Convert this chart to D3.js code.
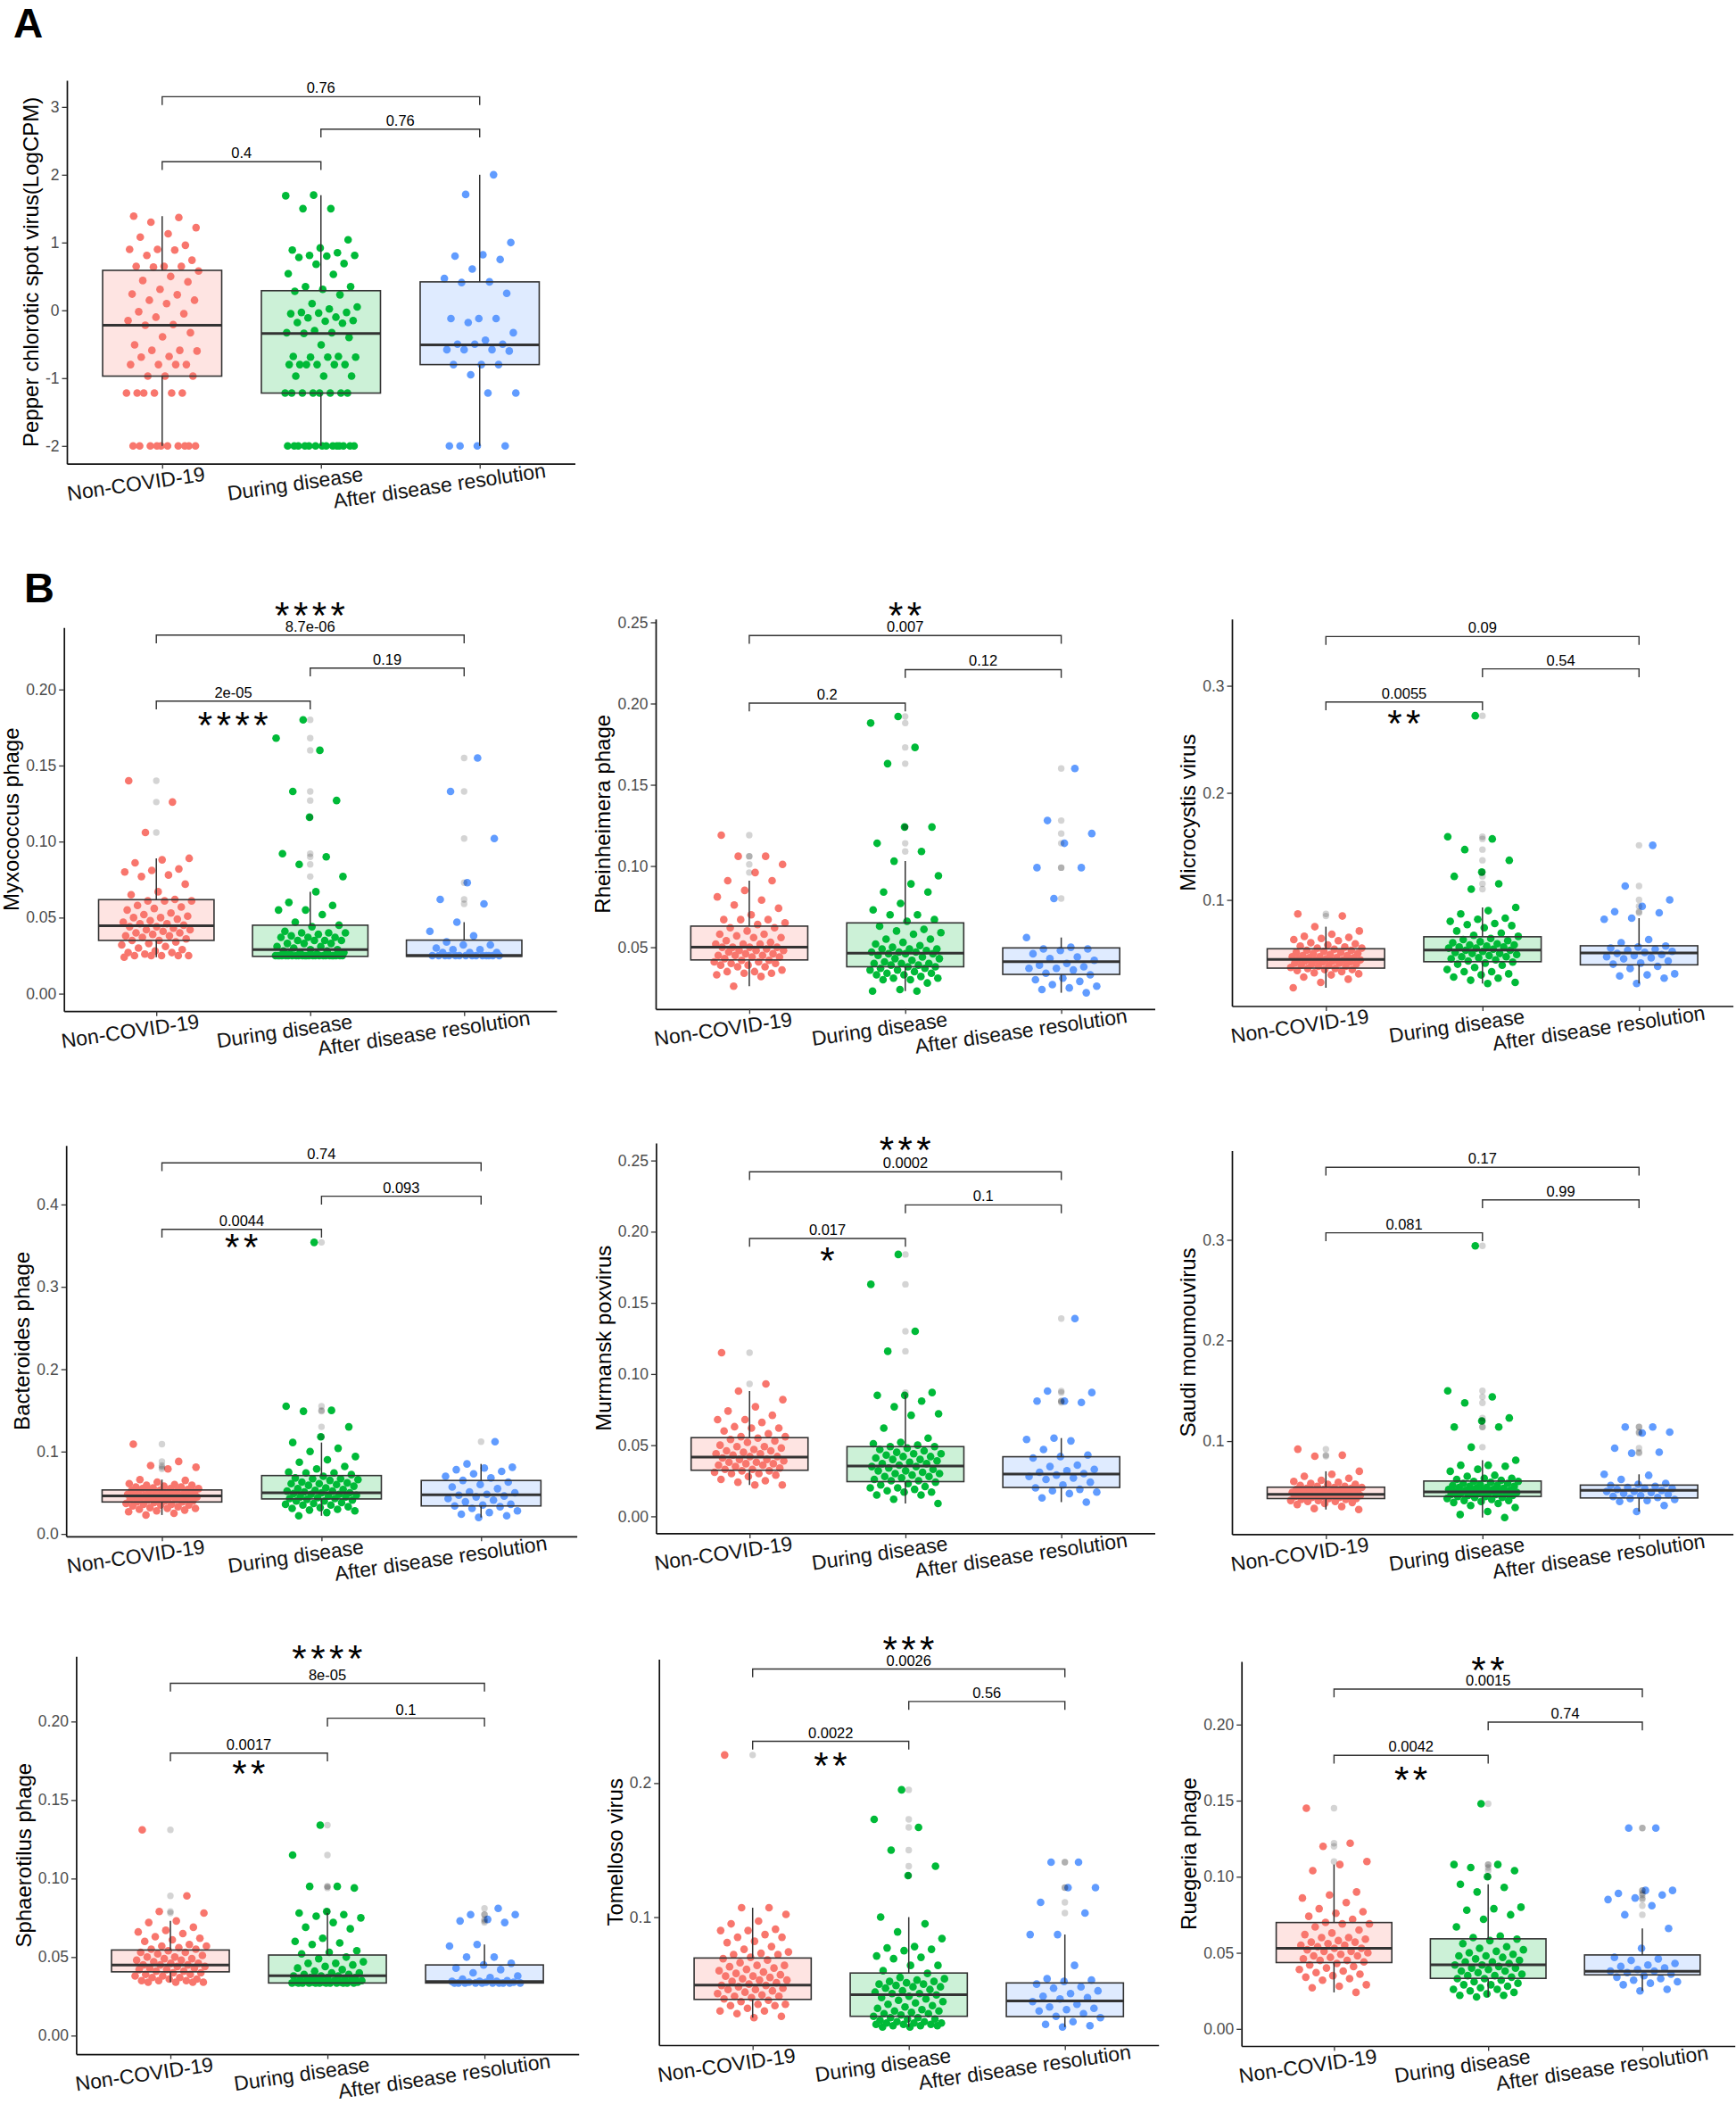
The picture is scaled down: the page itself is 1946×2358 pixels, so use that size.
<!DOCTYPE html>
<html><head><meta charset="utf-8">
<script src="https://cdn.jsdelivr.net/npm/d3@7"></script>
<style>body{margin:0;background:#fff} svg text{font-family:"Liberation Sans",Arial,sans-serif}</style>
</head><body><svg id="c" width="1946" height="2358"></svg>
<script>
const categories = ["Non-COVID-19","During disease","After disease resolution"];
const groupColors = ["#F8766D","#00BA38","#619CFF"];
const comparisons = [[0,1],[1,2],[0,2]];

// ---------- Panel A: Pepper chlorotic spot virus ----------
const pepperNon = [1.39,1.37,1.30,1.22,1.13,1.08,0.96,0.90,0.90,0.89,0.81,0.74,0.65,0.65,0.65,0.64,0.58,0.50,0.44,0.42,0.31,0.24,0.23,0.15,0.15,0.10,-0.02,-0.05,-0.10,-0.15,-0.21,-0.22,-0.33,-0.39,-0.51,-0.59,-0.59,-0.60,-0.68,-0.69,-0.80,-0.80,-0.80,-0.80,-0.97,-0.97,-0.97,-1.22,-1.22,-1.22,-1.22,-1.22,-1.22,-2,-2,-2,-2,-2,-2,-2,-2,-2,-2];
const pepperDuring = [1.70,1.69,1.50,1.50,1.04,0.92,0.89,0.85,0.81,0.81,0.80,0.78,0.69,0.68,0.54,0.53,0.35,0.35,0.31,0.28,0.23,0.10,0.05,0.02,-0.03,-0.03,-0.04,-0.05,-0.10,-0.11,-0.15,-0.16,-0.18,-0.19,-0.30,-0.33,-0.33,-0.34,-0.40,-0.51,-0.68,-0.68,-0.69,-0.69,-0.69,-0.80,-0.80,-0.80,-0.80,-0.80,-0.80,-0.97,-0.97,-0.97,-1.22,-1.22,-1.22,-1.22,-1.22,-1.22,-1.22,-1.22,-2,-2,-2,-2,-2,-2,-2,-2,-2,-2,-2,-2,-2,-2];
const pepperAfter = [2.00,1.71,1.00,0.82,0.80,0.75,0.61,0.47,0.42,0.41,0.25,-0.12,-0.12,-0.12,-0.18,-0.33,-0.44,-0.50,-0.50,-0.50,-0.58,-0.58,-0.58,-0.60,-0.80,-0.80,-0.80,-0.95,-1.22,-1.22,-2,-2,-2,-2];
const pepperStats = [[-0.97,-0.22,0.59],[-1.22,-0.34,0.29],[-0.80,-0.51,0.42]]; // q1, median, q3
const pepperTicks = [-2,-1,0,1,2,3];
const pepperTickLabels = ["-2","-1","0","1","2","3"];
const pepperBrackets = [2.193,2.672,3.151];
const pepperP = ["0.4","0.76","0.76"];
const pepperStars = ["",""];

// ---------- B1: Myxococcus phage ----------
const myxoNon = [0.140,0.126,0.106,0.089,0.088,0.086,0.082,0.081,0.080,0.078,0.077,0.072,0.067,0.065,0.062,0.061,0.061,0.061,0.058,0.057,0.056,0.055,0.053,0.052,0.051,0.050,0.050,0.049,0.048,0.047,0.046,0.046,0.045,0.044,0.044,0.043,0.042,0.042,0.041,0.040,0.040,0.039,0.038,0.038,0.037,0.036,0.035,0.035,0.034,0.033,0.032,0.031,0.030,0.029,0.028,0.027,0.027,0.026,0.025,0.025,0.025,0.025,0.025,0.024];
const myxoDuring = [0.180,0.168,0.160,0.133,0.127,0.116,0.092,0.090,0.085,0.077,0.067,0.060,0.058,0.055,0.055,0.052,0.047,0.045,0.044,0.041,0.040,0.040,0.040,0.039,0.038,0.037,0.037,0.037,0.035,0.035,0.035,0.035,0.033,0.033,0.033,0.031,0.031,0.030,0.029,0.029,0.028,0.028,0.027,0.027,0.026,0.026,0.025,0.025,0.025,0.025,0.025,0.025,0.025,0.025,0.025,0.025,0.025,0.025,0.025,0.025,0.025,0.025,0.025,0.025,0.025,0.025,0.025,0.025,0.025,0.025];
const myxoAfter = [0.155,0.133,0.102,0.073,0.062,0.059,0.047,0.041,0.038,0.034,0.032,0.032,0.030,0.029,0.029,0.027,0.027,0.027,0.025,0.025,0.025,0.025,0.025,0.025,0.025,0.025,0.025,0.025,0.025,0.025,0.025,0.025];
const myxoStats = [[0.035,0.0446,0.0618],[0.0245,0.0289,0.045],[0.0245,0.0251,0.0352]];
const myxoTicks = [0,0.05,0.10,0.15,0.20];
const myxoTickLabels = ["0.00","0.05","0.10","0.15","0.20"];
const myxoBrackets = [0.1924,0.2141,0.2358];
const myxoP = ["2e-05","0.19","8.7e-06"];
const myxoStars = ["****","****"];

// ---------- B2: Rheinheimera phage ----------
const rheinNon = [0.119,0.106,0.106,0.101,0.096,0.091,0.091,0.085,0.081,0.079,0.076,0.074,0.070,0.067,0.067,0.067,0.065,0.064,0.062,0.062,0.060,0.058,0.058,0.057,0.056,0.056,0.054,0.053,0.052,0.052,0.052,0.050,0.050,0.050,0.050,0.049,0.048,0.048,0.048,0.047,0.046,0.046,0.045,0.045,0.045,0.044,0.044,0.043,0.042,0.042,0.041,0.041,0.040,0.040,0.039,0.039,0.038,0.038,0.036,0.035,0.035,0.034,0.034,0.033,0.032,0.026];
const rheinDuring = [0.192,0.188,0.173,0.163,0.124,0.124,0.114,0.109,0.103,0.094,0.089,0.084,0.084,0.077,0.073,0.070,0.070,0.067,0.066,0.063,0.061,0.060,0.059,0.058,0.055,0.055,0.053,0.052,0.051,0.050,0.049,0.049,0.049,0.048,0.047,0.047,0.047,0.046,0.046,0.046,0.045,0.044,0.043,0.043,0.042,0.041,0.040,0.040,0.040,0.039,0.039,0.038,0.038,0.037,0.037,0.036,0.036,0.035,0.034,0.034,0.033,0.033,0.032,0.031,0.031,0.030,0.030,0.028,0.024,0.023,0.023];
const rheinAfter = [0.160,0.128,0.120,0.114,0.099,0.099,0.080,0.056,0.050,0.049,0.049,0.048,0.046,0.044,0.043,0.042,0.040,0.039,0.038,0.037,0.037,0.036,0.034,0.033,0.031,0.030,0.029,0.027,0.026,0.025,0.024,0.022];
const rheinStats = [[0.0422,0.050,0.063],[0.038,0.0463,0.065],[0.0333,0.0411,0.0496]];
const rheinTicks = [0.05,0.10,0.15,0.20,0.25];
const rheinTickLabels = ["0.05","0.10","0.15","0.20","0.25"];
const rheinBrackets = [0.2003,0.2209,0.2419];
const rheinP = ["0.2","0.12","0.007"];
const rheinStars = ["**",""];

// ---------- B3: Microcystis virus ----------
const microNon = [0.087,0.085,0.075,0.071,0.068,0.066,0.065,0.064,0.063,0.062,0.060,0.059,0.058,0.057,0.056,0.055,0.055,0.054,0.053,0.053,0.052,0.051,0.051,0.050,0.050,0.049,0.048,0.048,0.047,0.047,0.046,0.046,0.046,0.045,0.045,0.044,0.044,0.044,0.043,0.043,0.042,0.042,0.041,0.041,0.040,0.040,0.039,0.039,0.038,0.038,0.037,0.036,0.036,0.035,0.035,0.034,0.033,0.032,0.031,0.030,0.028,0.026,0.023,0.018];
const microDuring = [0.272,0.159,0.157,0.147,0.137,0.126,0.122,0.115,0.110,0.093,0.090,0.087,0.083,0.082,0.080,0.078,0.077,0.076,0.074,0.071,0.069,0.067,0.066,0.064,0.063,0.062,0.061,0.060,0.059,0.058,0.058,0.057,0.056,0.056,0.055,0.055,0.054,0.053,0.053,0.052,0.051,0.050,0.050,0.049,0.048,0.047,0.047,0.046,0.045,0.044,0.043,0.042,0.041,0.040,0.039,0.037,0.035,0.033,0.033,0.031,0.030,0.028,0.027,0.025,0.023,0.022];
const microAfter = [0.151,0.113,0.100,0.094,0.089,0.088,0.083,0.082,0.063,0.060,0.057,0.056,0.055,0.054,0.053,0.052,0.051,0.050,0.049,0.048,0.047,0.046,0.045,0.043,0.041,0.040,0.038,0.036,0.031,0.030,0.029,0.027,0.022];
const microStats = [[0.0363,0.0445,0.0544],[0.0423,0.0532,0.0656],[0.0394,0.0504,0.0572]];
const microTicks = [0.1,0.2,0.3];
const microTickLabels = ["0.1","0.2","0.3"];
const microBrackets = [0.2848,0.3158,0.346];
const microP = ["0.0055","0.54","0.09"];
const microStars = ["","**"];

// ---------- B4: Bacteroides phage ----------
const bactNon = [0.109,0.088,0.083,0.081,0.079,0.066,0.065,0.063,0.061,0.060,0.059,0.059,0.058,0.057,0.057,0.056,0.055,0.055,0.055,0.054,0.053,0.053,0.052,0.052,0.051,0.050,0.050,0.049,0.049,0.048,0.048,0.047,0.047,0.047,0.046,0.046,0.045,0.045,0.044,0.044,0.043,0.043,0.042,0.042,0.041,0.040,0.040,0.039,0.039,0.038,0.037,0.036,0.036,0.035,0.035,0.034,0.033,0.032,0.031,0.031,0.030,0.029,0.028,0.027,0.025,0.023];
const bactDuring = [0.354,0.155,0.150,0.149,0.130,0.118,0.111,0.104,0.100,0.094,0.090,0.087,0.082,0.079,0.075,0.074,0.074,0.072,0.070,0.068,0.067,0.067,0.066,0.065,0.063,0.062,0.061,0.061,0.060,0.059,0.058,0.056,0.055,0.054,0.053,0.052,0.052,0.051,0.050,0.050,0.049,0.048,0.048,0.047,0.046,0.045,0.045,0.044,0.043,0.043,0.042,0.041,0.040,0.040,0.038,0.037,0.036,0.035,0.035,0.033,0.032,0.031,0.030,0.029,0.028,0.026,0.022];
const bactAfter = [0.112,0.085,0.081,0.080,0.078,0.076,0.073,0.070,0.068,0.065,0.063,0.060,0.057,0.055,0.051,0.050,0.048,0.047,0.046,0.045,0.043,0.041,0.039,0.036,0.035,0.034,0.033,0.031,0.028,0.026,0.024,0.022,0.020];
const bactStats = [[0.0388,0.0463,0.0534],[0.0425,0.050,0.0709],[0.034,0.0474,0.0649]];
const bactTicks = [0,0.1,0.2,0.3,0.4];
const bactTickLabels = ["0.0","0.1","0.2","0.3","0.4"];
const bactBrackets = [0.3699,0.4100,0.4506];
const bactP = ["0.0044","0.093","0.74"];
const bactStars = ["","**"];

// ---------- B5: Murmansk poxvirus ----------
const murmNon = [0.115,0.093,0.088,0.082,0.077,0.074,0.071,0.068,0.068,0.066,0.063,0.062,0.062,0.060,0.058,0.056,0.056,0.055,0.054,0.053,0.052,0.050,0.049,0.049,0.048,0.047,0.046,0.046,0.045,0.044,0.044,0.043,0.042,0.042,0.041,0.040,0.040,0.039,0.038,0.038,0.037,0.037,0.036,0.036,0.035,0.034,0.033,0.033,0.032,0.032,0.031,0.030,0.030,0.029,0.028,0.026,0.025,0.024,0.022,0.022];
const murmDuring = [0.184,0.163,0.130,0.116,0.087,0.085,0.085,0.081,0.077,0.072,0.071,0.062,0.055,0.052,0.051,0.050,0.049,0.049,0.048,0.047,0.046,0.045,0.044,0.044,0.043,0.042,0.042,0.041,0.040,0.040,0.039,0.038,0.037,0.037,0.036,0.035,0.035,0.034,0.033,0.032,0.032,0.031,0.030,0.030,0.029,0.028,0.028,0.027,0.026,0.025,0.025,0.024,0.023,0.022,0.021,0.020,0.020,0.019,0.018,0.017,0.017,0.015,0.015,0.012,0.009];
const murmAfter = [0.139,0.088,0.087,0.081,0.081,0.080,0.055,0.054,0.053,0.047,0.043,0.042,0.041,0.036,0.035,0.033,0.032,0.031,0.030,0.029,0.028,0.027,0.026,0.024,0.022,0.020,0.019,0.018,0.017,0.016,0.013,0.010];
const murmStats = [[0.0324,0.0417,0.0553],[0.0244,0.0354,0.049],[0.0203,0.0298,0.0419]];
const murmTicks = [0,0.05,0.10,0.15,0.20,0.25];
const murmTickLabels = ["0.00","0.05","0.10","0.15","0.20","0.25"];
const murmBrackets = [0.1952,0.2188,0.2421];
const murmP = ["0.017","0.1","0.0002"];
const murmStars = ["***","*"];

// ---------- B6: Saudi moumouvirus ----------
const saudiNon = [0.092,0.086,0.085,0.070,0.067,0.065,0.063,0.061,0.060,0.059,0.058,0.057,0.057,0.056,0.055,0.055,0.054,0.054,0.053,0.053,0.052,0.052,0.052,0.051,0.051,0.050,0.050,0.050,0.049,0.049,0.049,0.048,0.048,0.048,0.047,0.047,0.047,0.046,0.046,0.046,0.045,0.045,0.045,0.044,0.044,0.043,0.043,0.042,0.042,0.041,0.041,0.040,0.040,0.039,0.038,0.037,0.035,0.033,0.032];
const saudiDuring = [0.294,0.150,0.144,0.138,0.123,0.120,0.114,0.114,0.094,0.081,0.076,0.076,0.075,0.072,0.070,0.066,0.065,0.063,0.063,0.062,0.061,0.060,0.060,0.059,0.058,0.058,0.057,0.056,0.056,0.055,0.055,0.054,0.054,0.053,0.053,0.052,0.052,0.051,0.051,0.051,0.050,0.050,0.050,0.049,0.049,0.049,0.048,0.048,0.047,0.047,0.046,0.046,0.045,0.045,0.044,0.044,0.043,0.042,0.041,0.041,0.040,0.039,0.038,0.036,0.034,0.030,0.027,0.024];
const saudiAfter = [0.114,0.114,0.109,0.108,0.093,0.089,0.088,0.067,0.066,0.062,0.058,0.057,0.056,0.055,0.054,0.053,0.053,0.052,0.051,0.050,0.050,0.049,0.048,0.047,0.046,0.045,0.044,0.043,0.042,0.041,0.040,0.036,0.030];
const saudiStats = [[0.0429,0.0472,0.0542],[0.045,0.0496,0.0603],[0.0435,0.0511,0.0563]];
const saudiTicks = [0.1,0.2,0.3];
const saudiTickLabels = ["0.1","0.2","0.3"];
const saudiBrackets = [0.307,0.3397,0.372];
const saudiP = ["0.081","0.99","0.17"];
const saudiStars = ["",""];

// ---------- B7: Sphaerotilus phage ----------
const sphaNon = [0.131,0.089,0.079,0.078,0.073,0.072,0.069,0.067,0.066,0.065,0.063,0.062,0.061,0.060,0.058,0.057,0.057,0.056,0.055,0.055,0.054,0.053,0.053,0.052,0.051,0.050,0.050,0.049,0.049,0.048,0.048,0.047,0.046,0.046,0.045,0.045,0.045,0.044,0.044,0.043,0.043,0.042,0.042,0.041,0.041,0.040,0.040,0.039,0.039,0.038,0.038,0.037,0.037,0.036,0.036,0.035,0.035,0.035,0.034,0.034,0.034,0.034];
const sphaDuring = [0.134,0.115,0.095,0.095,0.094,0.079,0.078,0.077,0.076,0.075,0.072,0.069,0.068,0.062,0.060,0.059,0.058,0.054,0.053,0.052,0.050,0.049,0.047,0.046,0.046,0.045,0.044,0.043,0.042,0.041,0.040,0.040,0.039,0.039,0.038,0.038,0.038,0.037,0.037,0.037,0.036,0.036,0.036,0.035,0.035,0.035,0.035,0.034,0.034,0.034,0.034,0.034,0.0335,0.0335,0.0335,0.0335,0.0335,0.0335,0.0335,0.0335,0.0335,0.0335,0.0335,0.0335];
const sphaAfter = [0.081,0.077,0.077,0.074,0.073,0.072,0.058,0.057,0.050,0.050,0.046,0.045,0.043,0.042,0.040,0.038,0.037,0.036,0.035,0.0345,0.0345,0.0345,0.034,0.034,0.034,0.0335,0.0335,0.0335,0.0335,0.0335,0.0335,0.0335,0.0335,0.0335,0.0335];
const sphaStats = [[0.0406,0.045,0.0545],[0.0335,0.0381,0.0513],[0.0335,0.0344,0.045]];
const sphaTicks = [0,0.05,0.10,0.15,0.20];
const sphaTickLabels = ["0.00","0.05","0.10","0.15","0.20"];
const sphaBrackets = [0.1799,0.2021,0.2243];
const sphaP = ["0.0017","0.1","8e-05"];
const sphaStars = ["****","**"];

// ---------- B8: Tomelloso virus ----------
const tomeNon = [0.221,0.107,0.107,0.102,0.097,0.095,0.091,0.090,0.090,0.087,0.085,0.085,0.082,0.081,0.078,0.076,0.074,0.073,0.072,0.072,0.070,0.069,0.068,0.066,0.064,0.064,0.063,0.062,0.061,0.060,0.059,0.058,0.057,0.056,0.056,0.055,0.054,0.053,0.053,0.052,0.051,0.050,0.049,0.049,0.048,0.047,0.046,0.046,0.045,0.044,0.043,0.042,0.041,0.041,0.040,0.039,0.038,0.037,0.035,0.035,0.034,0.034,0.032,0.030,0.030,0.028,0.026,0.025];
const tomeDuring = [0.195,0.173,0.167,0.150,0.138,0.131,0.100,0.095,0.089,0.084,0.078,0.077,0.076,0.075,0.071,0.070,0.069,0.064,0.064,0.060,0.058,0.055,0.054,0.053,0.052,0.052,0.051,0.050,0.050,0.049,0.048,0.048,0.047,0.046,0.045,0.044,0.043,0.043,0.042,0.041,0.040,0.039,0.038,0.037,0.036,0.035,0.034,0.033,0.032,0.031,0.030,0.030,0.029,0.028,0.028,0.027,0.026,0.025,0.025,0.024,0.024,0.023,0.022,0.022,0.021,0.021,0.021,0.020,0.020,0.020,0.019,0.019,0.019,0.018,0.018];
const tomeAfter = [0.141,0.141,0.122,0.122,0.111,0.103,0.087,0.087,0.064,0.054,0.053,0.052,0.050,0.048,0.047,0.045,0.043,0.041,0.040,0.039,0.037,0.035,0.033,0.032,0.031,0.030,0.028,0.026,0.025,0.022,0.020,0.019,0.018];
const tomeStats = [[0.0386,0.0493,0.0695],[0.026,0.0422,0.0583],[0.0258,0.0374,0.0509]];
const tomeTicks = [0.1,0.2];
const tomeTickLabels = ["0.1","0.2"];
const tomeBrackets = [0.2312,0.2609,0.2851];
const tomeP = ["0.0022","0.56","0.0026"];
const tomeStars = ["***","**"];

// ---------- B9: Ruegeria phage ----------
const ruegNon = [0.145,0.122,0.120,0.110,0.108,0.104,0.090,0.088,0.086,0.083,0.079,0.077,0.076,0.074,0.072,0.070,0.069,0.069,0.067,0.065,0.063,0.062,0.060,0.060,0.059,0.058,0.057,0.057,0.056,0.055,0.055,0.054,0.053,0.053,0.052,0.051,0.051,0.050,0.049,0.048,0.048,0.047,0.046,0.045,0.045,0.044,0.043,0.042,0.041,0.040,0.039,0.038,0.037,0.036,0.035,0.034,0.033,0.032,0.029,0.028,0.027,0.024];
const ruegDuring = [0.148,0.108,0.108,0.106,0.104,0.100,0.095,0.093,0.090,0.080,0.079,0.078,0.075,0.072,0.067,0.061,0.060,0.059,0.058,0.056,0.054,0.053,0.052,0.051,0.050,0.049,0.048,0.048,0.047,0.046,0.045,0.044,0.044,0.043,0.042,0.042,0.041,0.040,0.040,0.039,0.038,0.038,0.037,0.036,0.035,0.035,0.034,0.033,0.033,0.032,0.031,0.030,0.029,0.029,0.028,0.027,0.026,0.026,0.025,0.024,0.023,0.022,0.022,0.021];
const ruegAfter = [0.132,0.132,0.091,0.091,0.089,0.088,0.086,0.085,0.081,0.075,0.066,0.053,0.047,0.046,0.045,0.043,0.042,0.041,0.040,0.039,0.038,0.038,0.037,0.036,0.035,0.034,0.033,0.032,0.031,0.030,0.029,0.026,0.025];
const ruegStats = [[0.0436,0.0529,0.0699],[0.0332,0.0421,0.0592],[0.0355,0.0379,0.0486]];
const ruegTicks = [0,0.05,0.10,0.15,0.20];
const ruegTickLabels = ["0.00","0.05","0.10","0.15","0.20"];
const ruegBrackets = [0.1798,0.2016,0.2233];
const ruegP = ["0.0042","0.74","0.0015"];
const ruegStars = ["**","**"];

// ---------- panel layout (frame = axis box in page pixels) ----------
const panels = [
 {title:"Pepper chlorotic spot virus(LogCPM)", groups:[pepperNon,pepperDuring,pepperAfter], stats:pepperStats, ticks:pepperTicks, tickLabels:pepperTickLabels, brackets:pepperBrackets, pvals:pepperP, stars:pepperStars, domain:[-2.262,3.393], frame:{l:75,r:644.5,t:90,b:519.7}, lift:29, drop:15},
 {title:"Myxococcus phage", groups:[myxoNon,myxoDuring,myxoAfter], stats:myxoStats, ticks:myxoTicks, tickLabels:myxoTickLabels, brackets:myxoBrackets, pvals:myxoP, stars:myxoStars, domain:[-0.0115,0.2408], frame:{l:71.7,r:623.8,t:703.2,b:1133.2}, lift:31, drop:17.6},
 {title:"Rheinheimera phage", groups:[rheinNon,rheinDuring,rheinAfter], stats:rheinStats, ticks:rheinTicks, tickLabels:rheinTickLabels, brackets:rheinBrackets, pvals:rheinP, stars:rheinStars, domain:[0.012,0.252], frame:{l:735,r:1294.5,t:693.8,b:1130.8}, lift:32, drop:15},
 {title:"Microcystis virus", groups:[microNon,microDuring,microAfter], stats:microStats, ticks:microTicks, tickLabels:microTickLabels, brackets:microBrackets, pvals:microP, stars:microStars, domain:[0.0009,0.3623], frame:{l:1381,r:1942.6,t:693.8,b:1127.5}, lift:31, drop:14.5},
 {title:"Bacteroides phage", groups:[bactNon,bactDuring,bactAfter], stats:bactStats, ticks:bactTicks, tickLabels:bactTickLabels, brackets:bactBrackets, pvals:bactP, stars:bactStars, domain:[-0.0029,0.4716], frame:{l:74.2,r:646.6,t:1283.8,b:1721.8}, lift:31, drop:11},
 {title:"Murmansk poxvirus", groups:[murmNon,murmDuring,murmAfter], stats:murmStats, ticks:murmTicks, tickLabels:murmTickLabels, brackets:murmBrackets, pvals:murmP, stars:murmStars, domain:[-0.0119,0.2623], frame:{l:735.4,r:1294.5,t:1281,b:1718.4}, lift:33.5, drop:15.2},
 {title:"Saudi moumouvirus", groups:[saudiNon,saudiDuring,saudiAfter], stats:saudiStats, ticks:saudiTicks, tickLabels:saudiTickLabels, brackets:saudiBrackets, pvals:saudiP, stars:saudiStars, domain:[0.0075,0.3886], frame:{l:1381,r:1942.6,t:1289.6,b:1719.4}, lift:31, drop:15},
 {title:"Sphaerotilus phage", groups:[sphaNon,sphaDuring,sphaAfter], stats:sphaStats, ticks:sphaTicks, tickLabels:sphaTickLabels, brackets:sphaBrackets, pvals:sphaP, stars:sphaStars, domain:[-0.0118,0.2415], frame:{l:85.4,r:648.7,t:1856.3,b:2302.1}, lift:37, drop:13.4},
 {title:"Tomelloso virus", groups:[tomeNon,tomeDuring,tomeAfter], stats:tomeStats, ticks:tomeTicks, tickLabels:tomeTickLabels, brackets:tomeBrackets, pvals:tomeP, stars:tomeStars, domain:[0.0045,0.2924], frame:{l:738.7,r:1298.7,t:1859.6,b:2292}, lift:31, drop:18.2},
 {title:"Ruegeria phage", groups:[ruegNon,ruegDuring,ruegAfter], stats:ruegStats, ticks:ruegTicks, tickLabels:ruegTickLabels, brackets:ruegBrackets, pvals:ruegP, stars:ruegStars, domain:[-0.01125,0.2415], frame:{l:1391.7,r:1944.7,t:1862,b:2293}, lift:31, drop:17.9}
];

const svg = d3.select("#c");
svg.append("rect").attr("width",1946).attr("height",2358).attr("fill","#fff");
const FONT = "Liberation Sans, Arial, sans-serif";
const STAR_FS = 42;

function drawPanel(p) {
  const f = p.frame;
  const g = svg.append("g");
  const x = d3.scalePoint().domain(categories).range([f.l, f.r]).padding(0.6);
  const y = d3.scaleLinear().domain(p.domain).range([f.b, f.t]);
  const step = x.step();
  const boxW = 0.75 * step;

  // jittered points (deterministic low-discrepancy horizontal jitter)
  p.groups.forEach((vals, gi) => {
    const cx = x(categories[gi]);
    g.append("g").selectAll("circle").data(vals).join("circle")
      .attr("cx", (d, i) => cx + (((i * 0.6180339887 + gi * 0.29 + 0.11) % 1) - 0.5) * 0.46 * step)
      .attr("cy", d => y(d))
      .attr("r", 4.3)
      .attr("fill", groupColors[gi]);
  });

  // boxplots (whiskers / outliers from the 1.5*IQR rule)
  p.groups.forEach((vals, gi) => {
    const [q1, med, q3] = p.stats[gi];
    const iqr = q3 - q1;
    const isIn = v => v >= q1 - 1.5 * iqr - 1e-9 && v <= q3 + 1.5 * iqr + 1e-9;
    const inside = vals.filter(isIn);
    const lo = d3.min(inside), hi = d3.max(inside);
    const outl = vals.filter(v => !isIn(v));
    const cx = x(categories[gi]);
    const c = d3.color(groupColors[gi]);
    c.opacity = 0.2;
    g.append("line").attr("x1", cx).attr("x2", cx).attr("y1", y(q3)).attr("y2", y(hi))
      .attr("stroke", "#333").attr("stroke-width", 1.5);
    g.append("line").attr("x1", cx).attr("x2", cx).attr("y1", y(q1)).attr("y2", y(lo))
      .attr("stroke", "#333").attr("stroke-width", 1.5);
    g.append("rect").attr("x", cx - boxW / 2).attr("width", boxW)
      .attr("y", y(q3)).attr("height", Math.max(0.5, y(q1) - y(q3)))
      .attr("fill", c.formatRgb()).attr("stroke", "#333").attr("stroke-width", 1.6);
    g.append("line").attr("x1", cx - boxW / 2).attr("x2", cx + boxW / 2)
      .attr("y1", y(med)).attr("y2", y(med)).attr("stroke", "#333").attr("stroke-width", 3);
    g.append("g").selectAll("circle").data(outl).join("circle")
      .attr("cx", cx).attr("cy", d => y(d)).attr("r", 3.7)
      .attr("fill", "#000").attr("fill-opacity", 0.17);
  });

  // y axis
  const ya = g.append("g").attr("transform", `translate(${f.l},0)`)
    .call(d3.axisLeft(y).tickValues(p.ticks).tickFormat((d, i) => p.tickLabels[i]).tickSize(5.5).tickSizeOuter(0));
  ya.select(".domain").attr("stroke", "#111").attr("stroke-width", 1.7);
  ya.selectAll(".tick line").attr("stroke", "#333").attr("stroke-width", 1.3);
  ya.selectAll(".tick text").attr("font-family", FONT).attr("font-size", 17.5).attr("fill", "#4d4d4d").attr("x", -8.5);
  let maxW = 0;
  ya.selectAll(".tick text").each(function () { maxW = Math.max(maxW, this.getComputedTextLength()); });

  // x axis
  const xa = g.append("g").attr("transform", `translate(0,${f.b})`)
    .call(d3.axisBottom(x).tickSize(5.5).tickSizeOuter(0).tickFormat(""));
  xa.select(".domain").attr("stroke", "#111").attr("stroke-width", 1.7);
  xa.selectAll(".tick line").attr("stroke", "#333").attr("stroke-width", 1.3);

  // rotated category labels
  categories.forEach(cat => {
    const t = g.append("text")
      .attr("transform", `translate(${x(cat)},${f.b + 18}) rotate(-8.3)`)
      .attr("font-family", FONT).attr("font-size", 23).attr("fill", "#111")
      .attr("dy", "0.35em").text(cat);
    const len = t.node().getComputedTextLength();
    t.attr("x", -0.69 * len);
  });

  // y title
  g.append("text")
    .attr("transform", `translate(${f.l - 8.5 - maxW - 8.3},${(f.t + f.b) / 2}) rotate(-90)`)
    .attr("text-anchor", "middle")
    .attr("font-family", FONT).attr("font-size", 24).attr("fill", "#000")
    .text(p.title);

  // significance brackets with p-values
  comparisons.forEach((cmp, k) => {
    const x1 = x(categories[cmp[0]]), x2 = x(categories[cmp[1]]);
    const yb = y(p.brackets[k]);
    g.append("path").attr("d", `M${x1},${yb + 9.3}V${yb}H${x2}V${yb + 9.3}`)
      .attr("fill", "none").attr("stroke", "#333").attr("stroke-width", 1.4);
    g.append("text")
      .attr("x", (x1 + x2) / 2).attr("y", yb - 4)
      .attr("text-anchor", "middle").attr("font-family", FONT).attr("font-size", 16.5).attr("fill", "#000")
      .text(p.pvals[k]);
  });

  // stars: above the 1-vs-3 bracket, below the 1-vs-2 bracket
  const starSpec = [
    {label: p.stars[0], cmp: comparisons[2], yc: y(p.brackets[2]) - p.lift},
    {label: p.stars[1], cmp: comparisons[0], yc: y(p.brackets[0]) + p.drop}
  ];
  starSpec.forEach(s => {
    if (!s.label) return;
    const mx = (x(categories[s.cmp[0]]) + x(categories[s.cmp[1]])) / 2;
    g.append("text").attr("x", mx + 2).attr("y", s.yc + 0.566 * STAR_FS)
      .attr("text-anchor", "middle").attr("font-family", FONT).attr("font-size", STAR_FS)
      .attr("letter-spacing", "4.5px").attr("fill", "#000").text(s.label);
  });
}

panels.forEach(drawPanel);

// panel letters
svg.append("text").attr("x", 15).attr("y", 42).attr("font-family", FONT)
  .attr("font-size", 46).attr("font-weight", "bold").text("A");
svg.append("text").attr("x", 27).attr("y", 675).attr("font-family", FONT)
  .attr("font-size", 47).attr("font-weight", "bold").text("B");
</script>
</body></html>
